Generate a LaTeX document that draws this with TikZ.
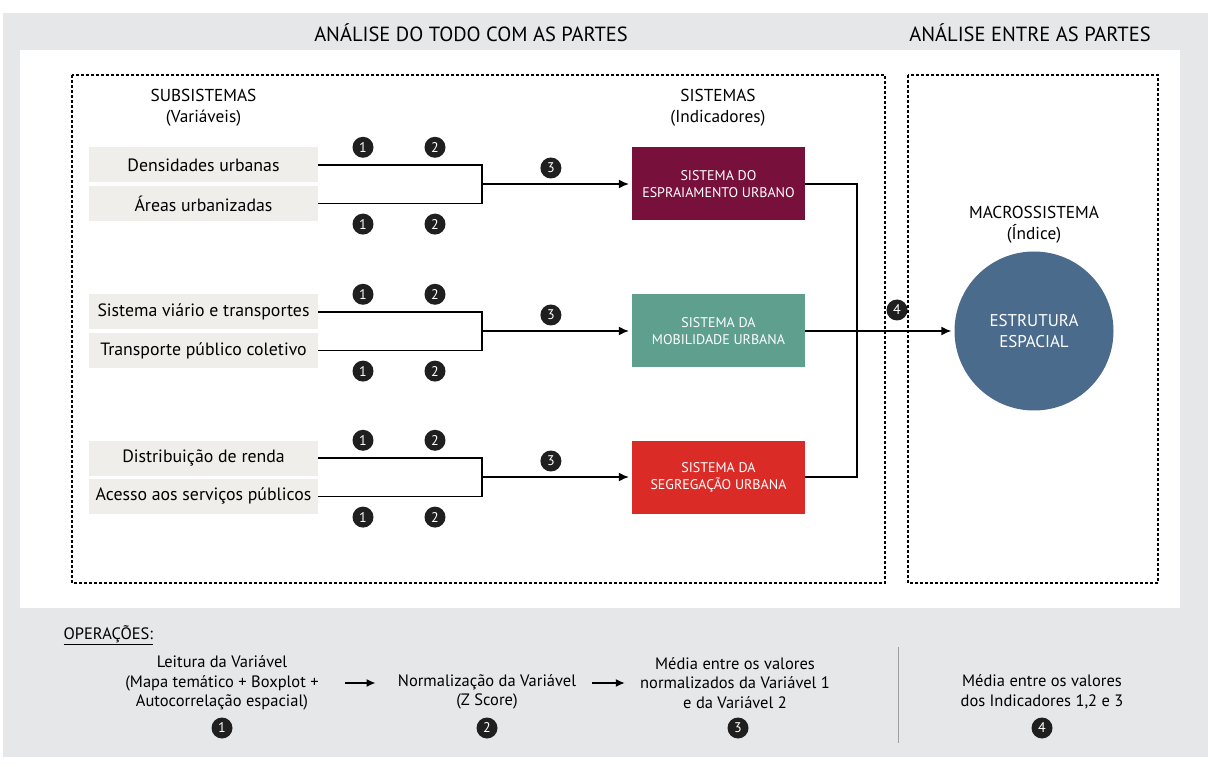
\documentclass[tikz,border=0pt]{standalone}
\usepackage{fontspec}
\setmainfont{PT Sans}
\usetikzlibrary{positioning,arrows.meta,calc}

\definecolor{fundo}{HTML}{E6E7E8}
\definecolor{caixa}{HTML}{EFEEEA}
\definecolor{espraiamento}{HTML}{78103C}
\definecolor{mobilidade}{HTML}{5E9F8E}
\definecolor{segregacao}{HTML}{DB2B27}
\definecolor{estrutura}{HTML}{4A6B8C}

\begin{document}
\begin{tikzpicture}[
    x=1pt, y=-1pt,
    subsis/.style={rectangle, fill=caixa, minimum width=229pt, minimum height=35pt, inner sep=0pt, font=\fontsize{17.8}{20}\selectfont},
    sistema/.style={rectangle, minimum width=173pt, minimum height=73pt, inner sep=0pt, text=white, align=center, font=\fontsize{14}{17}\selectfont},
    titulo/.style={align=center, font=\fontsize{17.3}{21}\selectfont},
    cabec/.style={font=\fontsize{20.5}{24}\selectfont},
    badge/.style={circle, fill=black!88, text=white, minimum size=21pt, inner sep=0pt, font=\fontsize{14}{14}\selectfont},
    oper/.style={align=center, inner sep=0pt, font=\fontsize{16.5}{19.5}\selectfont},
    frame/.style={densely dashed, line width=1.3pt},
    link/.style={line width=1.5pt},
    arr/.style={-{Latex[length=10pt,width=9pt]}, line width=1.5pt, shorten >=3pt},
    seta/.style={-{Latex[length=9pt,width=8pt]}, line width=1.8pt},
]
% fundo e painel branco
\useasboundingbox (0,0) rectangle (1208,767);
\fill[fundo] (3,13) rectangle (1208,757);
\fill[white] (20,50) rectangle (1180,608);

% cabecalhos
\node[cabec] (todo) at (471,33) {ANÁLISE DO TODO COM AS PARTES};
\node[cabec] (entre) at (1030,33) {ANÁLISE ENTRE AS PARTES};

\draw[frame] (72,75) rectangle (885,583);
\draw[frame] (908,75) rectangle (1158,583);

\node[titulo] (subtit) at (203.5,108) {SUBSISTEMAS\\(Variáveis)};
\node[titulo] (sistit) at (718,108) {SISTEMAS\\(Indicadores)};
\node[titulo] (macrotit) at (1034,225) {MACROSSISTEMA\\(Índice)};

% subsistemas
\node[subsis] (dens) at (203.5,165) {Densidades urbanas};
\node[subsis, below=3pt of dens] (areas) {Áreas urbanizadas};
\node[subsis] (viario) at (203.5,312) {Sistema viário e transportes};
\node[subsis, below=3pt of viario] (transp) {Transporte público coletivo};
\node[subsis] (renda) at (203.5,458) {Distribuição de renda};
\node[subsis, below=3pt of renda] (acesso) {Acesso aos serviços públicos};

% sistemas
\node[sistema, fill=espraiamento] (espr) at (718.5,184) {SISTEMA DO\\ESPRAIAMENTO URBANO};
\node[sistema, fill=mobilidade] (mob) at (718.5,331) {SISTEMA DA\\MOBILIDADE URBANA};
\node[sistema, fill=segregacao] (segr) at (718.5,477) {SISTEMA DA\\SEGREGAÇÃO URBANA};

% macrossistema
\node[circle, fill=estrutura, minimum size=159pt, inner sep=0pt, text=white, align=center,
      font=\fontsize{17}{21}\selectfont] (estr) at (1034,331) {ESTRUTURA\\ESPACIAL};

% pares de variaveis -> indicador
\foreach \a/\b/\s/\j in {dens/areas/espr/j1, viario/transp/mob/j2, renda/acesso/segr/j3} {
    \coordinate (\j) at (482,0 |- \s.west);
    \draw[link] (\a.east) -| (\j) |- (\b.east);
    \draw[arr] (\j) -- (\s.west);
    \node[badge] (\a-um) at (363,0 |- \a.north) {1};
    \node[badge] (\a-dois) at (435,0 |- \a.north) {2};
    \node[badge] (\b-um) at ([yshift=-3pt]363,0 |- \b.south) {1};
    \node[badge] (\b-dois) at ([yshift=-3pt]435,0 |- \b.south) {2};
    \node[badge] (\s-tres) at ([yshift=16pt]$(\j)!0.46!(\s.west)$) {3};
}

% indicadores -> indice
\coordinate (bus) at (857,0 |- mob.east);
\draw[link] (espr.east) -| (bus) |- (segr.east);
\draw[arr] (mob.east) -- (estr.west);
\node[badge] (quatro) at (897,310) {4};

% operacoes
\node[anchor=west, font=\fontsize{16.5}{19}\selectfont] (opers) at (60,635) {\underline{OPERAÇÕES:}};
\node[oper] (op1) at (222,683) {Leitura da Variável\\(Mapa temático + Boxplot +\\Autocorrelação espacial)};
\node[oper] (op2) at (487,692) {Normalização da Variável\\(Z Score)};
\node[oper] (op3) at (735,683) {Média entre os valores\\normalizados da Variável 1\\e da Variável 2};
\node[oper] (op4) at (1042,692) {Média entre os valores\\dos Indicadores 1,2 e 3};
\node[badge] (b1) at (222,728) {1};
\node[badge] (b2) at (487,728) {2};
\node[badge] (b3) at (738,728) {3};
\node[badge] (b4) at (1042,728) {4};
\draw[seta] ([xshift=26pt]op1.east) -- ([xshift=-22pt]op1.east -| op2.west);
\draw[seta] ([xshift=16pt]op2.east |- op3.west) -- ([xshift=-15pt]op3.west);
\draw[gray!75, line width=1pt] (898,647) -- (898,743);
\end{tikzpicture}
\end{document}
